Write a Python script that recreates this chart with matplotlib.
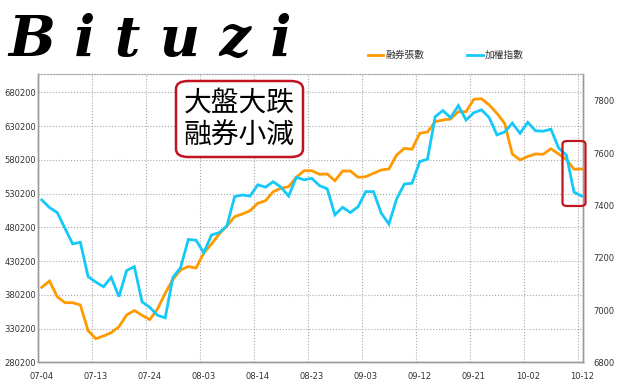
import numpy as np
import matplotlib
matplotlib.use('Agg')
import matplotlib.pyplot as plt
from matplotlib.patches import FancyBboxPatch

plt.rcParams['font.family'] = ['DejaVu Sans', 'Noto Sans CJK TC']

# trading-day labels shown on the x axis (every 7th day)
date_labels = ['07-04', '07-13', '07-24', '08-03', '08-14', '08-23',
               '09-03', '09-12', '09-21', '10-02', '10-12']

# 融券張數 (left axis)
short_sales = [391300, 400600, 377400, 368500, 368500, 365100, 327000, 315200,
               319200, 324100, 332900, 350300, 356900, 349800, 343500, 359200,
               382400, 403200, 417000, 422100, 419900, 442100, 455500, 470300,
               482100, 495900, 499900, 504800, 515800, 519600, 532900, 538000,
               540400, 554300, 564100, 564100, 558700, 559200, 549200, 563600,
               563600, 554300, 555200, 560200, 565100, 566600, 587300, 597200,
               595800, 619500, 621400, 636600, 639200, 640600, 651500, 651500,
               669800, 670700, 661400, 649100, 634300, 588800, 579900, 585100,
               588800, 588400, 596600, 588800, 580600, 566300, 566600]

# 加權指數 (right axis)
taiex = [7421, 7392, 7373, 7313, 7253, 7259, 7128, 7107, 7089, 7125, 7051,
         7151, 7166, 7031, 7010, 6980, 6970, 7125, 7163, 7270, 7267, 7219,
         7287, 7296, 7322, 7434, 7440, 7436, 7479, 7470, 7491, 7470, 7436,
         7508, 7498, 7504, 7476, 7464, 7364, 7393, 7373, 7395, 7453, 7453,
         7371, 7329, 7425, 7482, 7485, 7568, 7577, 7740, 7763, 7736, 7782,
         7727, 7755, 7766, 7736, 7670, 7681, 7715, 7676, 7718, 7686, 7684,
         7692, 7620, 7593, 7451, 7436]

left_ticks = [280200, 330200, 380200, 430200, 480200, 530200, 580200, 630200, 680200]
right_ticks = [6800, 7000, 7200, 7400, 7600, 7800]

ORANGE = '#ff9900'
CYAN = '#14c8f8'
GRID = '#a8a8a8'
TXT = '#333333'

fig = plt.figure(figsize=(6.2, 3.92), dpi=100)
ax = fig.add_axes([0.0618, 0.0758, 0.879, 0.7354])
ax2 = ax.twinx()

x = np.arange(len(short_sales))
ax.plot(x, short_sales, color=ORANGE, lw=2.0, solid_joinstyle='miter', zorder=3)
ax2.plot(x, taiex, color=CYAN, lw=2.0, solid_joinstyle='miter', zorder=3)

ax.set_xlim(-0.45, 70.2)
ax.set_ylim(280200, 707300)
ax2.set_ylim(6800, 7903)

ax.set_xticks(np.arange(0, len(short_sales), 7))
ax.set_xticklabels(date_labels)
ax.set_xticks(np.arange(6.5, len(short_sales), 7), minor=True)
ax.set_yticks(left_ticks)
ax.set_yticklabels([str(t) for t in left_ticks])
ax2.set_yticks(right_ticks)

ax.tick_params(axis='x', which='both', length=0, pad=7, labelsize=6, labelcolor=TXT)
ax.tick_params(axis='y', length=0, pad=1.5, labelsize=6, labelcolor=TXT)
ax2.tick_params(axis='y', length=0, pad=7, labelsize=6, labelcolor=TXT)

ax.grid(axis='y', which='major', color=GRID, ls=':', lw=0.8)
ax.grid(axis='x', which='minor', color=GRID, ls=':', lw=0.8)
ax.grid(axis='x', which='major', visible=False)
ax.set_axisbelow(True)

for a in (ax, ax2):
    for s in ('left', 'right', 'bottom'):
        a.spines[s].set_color('#9a9a9a')
        a.spines[s].set_linewidth(1.0)
    a.spines['top'].set_color(GRID)
    a.spines['top'].set_linestyle(':')
    a.spines['top'].set_linewidth(0.8)

# legend
fig.lines.append(plt.Line2D([367.7 / 620, 383 / 620], [1 - 55 / 392] * 2,
                            transform=fig.transFigure, color=ORANGE, lw=2))
fig.text(385 / 620, 1 - 55 / 392, '融券張數', fontsize=7, color=TXT, va='center',
         family=['Noto Sans CJK TC', 'DejaVu Sans'])
fig.lines.append(plt.Line2D([466.7 / 620, 483 / 620], [1 - 55 / 392] * 2,
                            transform=fig.transFigure, color=CYAN, lw=2))
fig.text(485 / 620, 1 - 55 / 392, '加權指數', fontsize=7, color=TXT, va='center',
         family=['Noto Sans CJK TC', 'DejaVu Sans'])

# logo
fig.text(150 / 620, 1 - 40 / 392, 'B i t u z i', fontsize=40, fontweight='bold',
         style='italic', family='DejaVu Serif', ha='center', va='center', color='black')

# callout box
box = FancyBboxPatch((176 / 620, 1 - 157 / 392), 127 / 620, 76 / 392,
                     boxstyle='round,pad=0,rounding_size=0.02', transform=fig.transFigure,
                     facecolor='white', edgecolor='#c0141e', lw=1.8, zorder=5)
fig.patches.append(box)
fig.text(239.5 / 620, 1 - 103 / 392, '大盤大跌', fontsize=20, ha='center', va='center',
         family=['Noto Sans CJK TC', 'DejaVu Sans'], color='black', zorder=6)
fig.text(239.5 / 620, 1 - 136 / 392, '融券小減', fontsize=20, ha='center', va='center',
         family=['Noto Sans CJK TC', 'DejaVu Sans'], color='black', zorder=6)

# highlight at the end
hl = FancyBboxPatch((562.5 / 620, 1 - 206 / 392), 23 / 620, 65 / 392,
                    boxstyle='round,pad=0,rounding_size=0.008', transform=fig.transFigure,
                    facecolor='none', edgecolor='#c0141e', lw=1.6, zorder=6)
fig.patches.append(hl)

fig.savefig('out.png', dpi=100)
